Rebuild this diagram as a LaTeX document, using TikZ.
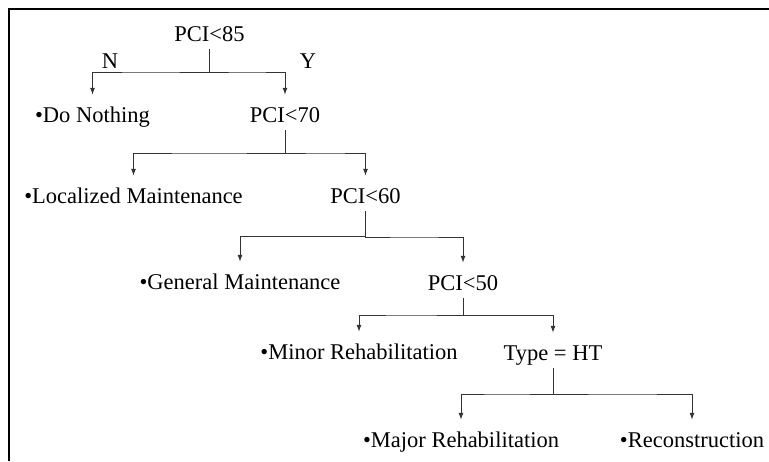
\documentclass[tikz,border=0pt]{standalone}
\usepackage{fontspec}
\setmainfont{Liberation Serif}
\usepackage{tikz}
\usetikzlibrary{arrows.meta,calc}
\tikzset{>={Latex[length=7pt,width=5pt]}}
\tikzset{
    choice/.style={font=\fontsize{22.5}{27}\selectfont, text height=24pt, text depth=5pt, inner sep=3pt, anchor=base},
    branch/.style={->, draw=black!80, line width=1pt}
}

\begin{document}
\begin{tikzpicture}[x=1pt,y=-1pt]
            \useasboundingbox (0,0) rectangle (769,461);
            \draw[line width=2pt] (9,461) -- (9,9) -- (769,9);
            % decisions
            \node[choice] (n85) at (209.5,41) {PCI<85};
            \node[choice] (n70) at (285,122) {PCI<70};
            \node[choice] (n60) at (365.5,203) {PCI<60};
            \node[choice] (n50) at (463,290) {PCI<50};
            \node[choice] (type) at (553,360) {Type = HT};
            % treatments
            \node[choice] (nothing) at (92.5,122) {•Do Nothing};
            \node[choice] (localized) at (133.5,203) {•Localized Maintenance};
            \node[choice] (general) at (240,289) {•General Maintenance};
            \node[choice] (minor) at (359,359) {•Minor Rehabilitation};
            \node[choice] (major) at (461,447) {•Major Rehabilitation};
            \node[choice] (recon) at (692,447) {•Reconstruction};
            \node[choice] (N) at (110,68) {N};
            \node[choice] (Y) at (308,68) {Y};
            % branches
            \draw[branch] (n85.south) |- ($(n85.south)!.5!(nothing.north)$) -| (nothing.north);
            \draw[branch] (n85.south) |- ($(n85.south)!.5!(n70.north)$) -| (n70.north);
            \draw[branch] (n70.south) |- ($(n70.south)!.5!(localized.north)$) -| (localized.north);
            \draw[branch] (n70.south) |- ($(n70.south)!.5!(n60.north)$) -| (n60.north);
            \draw[branch] (n60.south) |- ($(n60.south)!.5!(general.north)$) -| (general.north);
            \draw[branch] (n60.south) |- ($(n60.south)!.5!(n50.north)$) -| (n50.north);
            \draw[branch] (n50.south) |- ($(n50.south)!.5!(minor.north)$) -| (minor.north);
            \draw[branch] (n50.south) |- ($(n50.south)!.5!(type.north)$) -| (type.north);
            \draw[branch] (type.south) |- ($(type.south)!.5!(major.north)$) -| (major.north);
            \draw[branch] (type.south) |- ($(type.south)!.5!(recon.north)$) -| (recon.north);
\end{tikzpicture}
\end{document}
